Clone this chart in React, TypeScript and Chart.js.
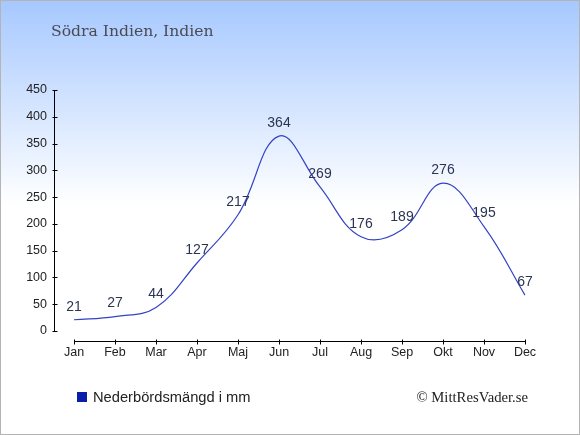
import { useEffect, useRef } from "react"
import { Chart, registerables, Plugin } from "chart.js"

Chart.register(...registerables)

const months = ["Jan", "Feb", "Mar", "Apr", "Maj", "Jun", "Jul", "Aug", "Sep", "Okt", "Nov", "Dec"]
const rainfall = [21, 27, 44, 127, 217, 364, 269, 176, 189, 276, 195, 67]
const yTicks = [0, 50, 100, 150, 200, 250, 300, 350, 400, 450]

const W = 580
const H = 435

const backgroundPlugin: Plugin = {
  id: "bg",
  beforeDraw(chart) {
    const ctx = chart.ctx
    ctx.save()
    const g = ctx.createLinearGradient(0, 0, 0, 205)
    g.addColorStop(0, "#a6c8ff")
    g.addColorStop(1, "#ffffff")
    ctx.fillStyle = "#ffffff"
    ctx.fillRect(0, 0, W, H)
    ctx.fillStyle = g
    ctx.fillRect(0, 0, W, 205)
    ctx.strokeStyle = "#b4b4b4"
    ctx.lineWidth = 1
    ctx.strokeRect(0.5, 0.5, W - 1, H - 1)
    ctx.restore()
  },
}

const axesPlugin: Plugin = {
  id: "axes",
  afterDraw(chart) {
    const ctx = chart.ctx
    const x = chart.scales.x
    const y = chart.scales.y
    ctx.save()
    ctx.strokeStyle = "#000000"
    ctx.lineWidth = 1
    // y axis
    const ax = 54.5
    ctx.beginPath()
    ctx.moveTo(ax, Math.round(y.getPixelForValue(450)) + 0.5)
    ctx.lineTo(ax, Math.round(y.getPixelForValue(0)) + 0.5)
    yTicks.forEach((v) => {
      const py = Math.round(y.getPixelForValue(v)) + 0.5
      ctx.moveTo(ax - 2, py)
      ctx.lineTo(ax + 3, py)
    })
    // x axis, a little below the zero line
    const ay = Math.round(y.getPixelForValue(0)) + 10.5
    ctx.moveTo(Math.round(x.getPixelForValue(0)) + 0.5, ay)
    ctx.lineTo(Math.round(x.getPixelForValue(months.length - 1)) + 0.5, ay)
    months.forEach((_, i) => {
      const px = Math.round(x.getPixelForValue(i)) + 0.5
      ctx.moveTo(px, ay - 2)
      ctx.lineTo(px, ay + 3)
    })
    ctx.stroke()
    ctx.restore()
  },
}

const labelPlugin: Plugin = {
  id: "valueLabels",
  afterDatasetsDraw(chart) {
    const ctx = chart.ctx
    const meta = chart.getDatasetMeta(0)
    ctx.save()
    ctx.font = "14px 'Liberation Sans', Arial, sans-serif"
    ctx.fillStyle = "#2b3552"
    ctx.textAlign = "center"
    ctx.textBaseline = "middle"
    meta.data.forEach((pt, i) => {
      ctx.fillText(String(rainfall[i]), pt.x, pt.y - 13)
    })
    ctx.restore()
  },
}

export default function App() {
  const canvasRef = useRef<HTMLCanvasElement>(null)
  const chartRef = useRef<Chart | null>(null)

  useEffect(() => {
    if (!canvasRef.current) return
    if (chartRef.current) chartRef.current.destroy()

    chartRef.current = new Chart(canvasRef.current, {
      type: "line",
      data: {
        labels: months,
        datasets: [
          {
            label: "Nederbördsmängd i mm",
            data: rainfall,
            borderColor: "#3443c4",
            borderWidth: 1.2,
            tension: 0.4,
            pointRadius: 0,
            fill: false,
          },
        ],
      },
      options: {
        animation: false,
        responsive: false,
        maintainAspectRatio: false,
        layout: { padding: { left: 0, right: 55, top: 90, bottom: 0 } },
        plugins: {
          legend: { display: false },
          tooltip: { enabled: false },
        },
        scales: {
          x: {
            offset: false,
            grid: { display: false, drawTicks: false },
            border: { display: false },
            ticks: {
              color: "#222222",
              font: { family: "'Liberation Sans', Arial, sans-serif", size: 12.5 },
              padding: 14,
              maxRotation: 0,
              autoSkip: false,
            },
            afterFit: (s) => {
              s.height = 104
            },
          },
          y: {
            min: 0,
            max: 450,
            grid: { display: false, drawTicks: false },
            border: { display: false },
            ticks: {
              stepSize: 50,
              color: "#222222",
              font: { family: "'Liberation Sans', Arial, sans-serif", size: 12.5 },
              padding: 27,
            },
            afterFit: (s) => {
              s.width = 74
            },
          },
        },
      },
      plugins: [backgroundPlugin, axesPlugin, labelPlugin],
    })

    return () => {
      if (chartRef.current) {
        chartRef.current.destroy()
        chartRef.current = null
      }
    }
  }, [])

  return (
    <div style={{ position: "fixed", left: 0, top: 0, width: W, height: H }}>
      <canvas ref={canvasRef} width={W} height={H} style={{ width: W, height: H, display: "block" }} />
      <div
        style={{
          position: "absolute",
          left: 51,
          top: 22,
          font: "15.6px 'DejaVu Serif', serif",
          color: "#4a4a52",
          whiteSpace: "nowrap",
        }}
      >
        Södra Indien, Indien
      </div>
      <div
        style={{
          position: "absolute",
          left: 77,
          top: 389,
          display: "flex",
          alignItems: "center",
          font: "14.7px 'Liberation Sans', Arial, sans-serif",
          color: "#222222",
          whiteSpace: "nowrap",
        }}
      >
        <span style={{ display: "inline-block", width: 10, height: 10, background: "#0a1eaa", marginRight: 6 }} />
        Nederbördsmängd i mm
      </div>
      <div
        style={{
          position: "absolute",
          right: 52,
          top: 389,
          font: "14.7px 'Liberation Serif', 'Times New Roman', serif",
          color: "#222222",
          whiteSpace: "nowrap",
        }}
      >
        © MittResVader.se
      </div>
    </div>
  )
}
